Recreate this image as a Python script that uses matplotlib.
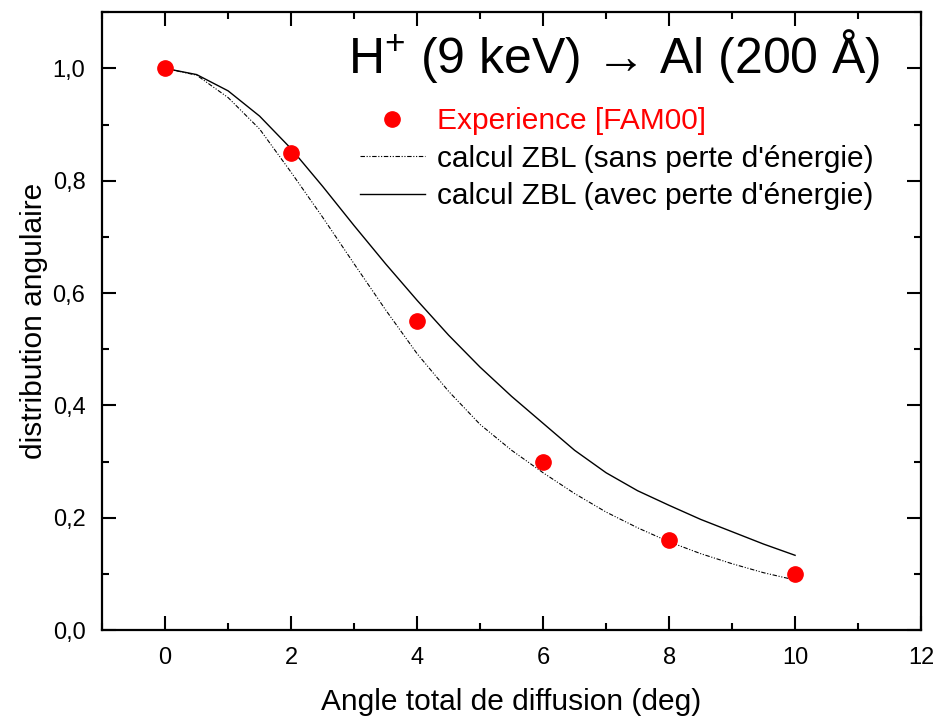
import matplotlib.pyplot as plt
from matplotlib.ticker import MultipleLocator
import numpy as np

plt.rcParams['font.family'] = ['Liberation Sans', 'DejaVu Sans']
plt.rcParams['mathtext.fontset'] = 'custom'
plt.rcParams['mathtext.rm'] = 'Liberation Sans'

# data
angle_exp = [0, 2, 4, 6, 8, 10]
dist_exp = [1.0, 0.85, 0.55, 0.30, 0.16, 0.10]

angle_calc = [0, 0.5, 1, 1.5, 2, 2.5, 3, 3.5, 4, 4.5, 5,
              5.5, 6, 6.5, 7, 7.5, 8, 8.5, 9, 9.5, 10]
zbl_sans = [1.0, 0.988, 0.948, 0.892, 0.815, 0.735, 0.652, 0.570, 0.492, 0.425, 0.366,
            0.320, 0.280, 0.243, 0.210, 0.182, 0.157, 0.136, 0.118, 0.102, 0.089]
zbl_avec = [1.0, 0.989, 0.960, 0.915, 0.857, 0.790, 0.720, 0.652, 0.587, 0.525, 0.468,
            0.416, 0.368, 0.320, 0.280, 0.248, 0.222, 0.197, 0.175, 0.153, 0.133]

fig = plt.figure(figsize=(9.37, 7.2), dpi=100)
ax = fig.add_axes([0.109, 0.125, 0.874, 0.858])

ax.plot(angle_exp, dist_exp, 'o', color='#ff0000', markersize=11,
        label='Experience [FAM00]', zorder=3)
ax.plot(angle_calc, zbl_sans, color='black', linewidth=0.8,
        linestyle=(0, (4, 1.5, 1, 1.5, 1, 1.5)),
        label="calcul ZBL (sans perte d'énergie)")
ax.plot(angle_calc, zbl_avec, color='black', linewidth=1.0,
        label="calcul ZBL (avec perte d'énergie)")

ax.set_xlim(-1, 12)
ax.set_ylim(0, 1.1)
ax.xaxis.set_major_locator(MultipleLocator(2))
ax.xaxis.set_minor_locator(MultipleLocator(1))
ax.yaxis.set_major_locator(MultipleLocator(0.2))
ax.yaxis.set_minor_locator(MultipleLocator(0.1))
ax.yaxis.set_major_formatter(plt.FuncFormatter(lambda v, p: ('%.1f' % v).replace('.', ',')))

ax.tick_params(which='both', direction='in', top=True, right=True,
               width=1.5, labelsize=17, pad=12)
ax.tick_params(which='major', length=10)
ax.tick_params(which='minor', length=5)
for s in ax.spines.values():
    s.set_linewidth(1.6)

ax.set_xlabel('Angle total de diffusion (deg)', fontsize=21.5, labelpad=14)
ax.set_ylabel('distribution angulaire', fontsize=21.5, labelpad=3)

ax.text(0.95, 0.901, r'H$^{+}$ (9 keV) → Al (200 Å)',
        transform=ax.transAxes, ha='right', va='baseline', fontsize=36)

leg = ax.legend(loc='upper left', bbox_to_anchor=(0.300, 0.866), frameon=False,
                fontsize=21.5, handlelength=2.17, handletextpad=0.4,
                labelspacing=0.32, borderaxespad=0)
leg.get_texts()[0].set_color('#ff0000')

fig.savefig('out.png', dpi=100)
